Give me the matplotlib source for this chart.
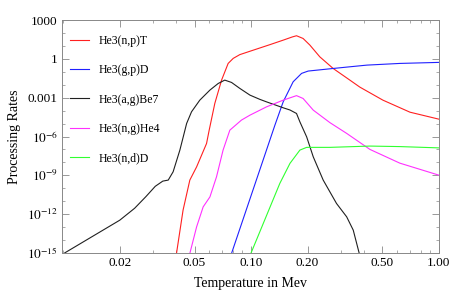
import matplotlib
matplotlib.use("Agg")
import matplotlib.pyplot as plt
import matplotlib.ticker as mticker
import numpy as np

# temperature (MeV, log10) and processing rate (log10)
be7_logT = [-1.992, -1.699, -1.620, -1.560, -1.510, -1.470, -1.441, -1.415, -1.379, -1.343,
            -1.317, -1.273, -1.219, -1.175, -1.140, -1.104, -1.060, -1.006, -0.953, -0.918,
            -0.829, -0.793, -0.758, -0.740, -0.704, -0.669, -0.616, -0.545, -0.491, -0.456,
            -0.424]
be7_logR = [-15.0, -12.47, -11.55, -10.65, -9.85, -9.45, -9.37, -8.73, -7.05, -4.99,
            -4.09, -3.19, -2.41, -1.90, -1.64, -1.82, -2.28, -2.80, -3.13, -3.32,
            -3.78, -3.95, -4.22, -4.87, -6.03, -7.57, -9.37, -11.18, -12.21, -13.24,
            -15.04]

npT_logT = [-1.397, -1.362, -1.326, -1.290, -1.237, -1.223, -1.193, -1.157, -1.122, -1.095,
            -1.060, -1.000, -0.900, -0.829, -0.780, -0.758, -0.723, -0.687, -0.634, -0.563,
            -0.474, -0.421, -0.298, -0.154, 0.0]
npT_logR = [-15.04, -11.69, -9.37, -8.35, -6.54, -5.51, -3.44, -1.64, -0.35, 0.04,
            0.33, 0.62, 1.10, 1.45, 1.70, 1.79, 1.58, 1.07, 0.16, -0.74,
            -1.64, -2.18, -3.19, -4.12, -4.66]

gpD_logT = [-1.104, -0.873, -0.829, -0.776, -0.731, -0.696, -0.563, -0.474, -0.383, -0.208,
            0.0]
gpD_logR = [-15.04, -5.12, -3.32, -1.77, -1.12, -0.94, -0.74, -0.61, -0.48, -0.35,
            -0.27]

ngHe4_logT = [-1.326, -1.290, -1.255, -1.219, -1.184, -1.149, -1.113, -1.051, -1.006, -0.918,
              -0.829, -0.758, -0.723, -0.669, -0.580, -0.491, -0.367, -0.208, 0.0]
ngHe4_logR = [-15.04, -12.99, -11.44, -10.67, -9.12, -7.05, -5.51, -4.73, -4.35, -3.71,
              -3.19, -2.84, -3.06, -3.96, -4.93, -5.76, -7.0, -8.06, -8.99]

ndD_logT = [-1.001, -0.847, -0.793, -0.740, -0.704, -0.580, -0.367, -0.208, 0.0]
ndD_logR = [-15.04, -9.63, -8.08, -7.05, -6.84, -6.84, -6.74, -6.78, -6.88]

labels = ["He3(n,p)T", "He3(g,p)D", "He3(a,g)Be7", "He3(n,g)He4", "He3(n,d)D"]
colors = ["#ff2020", "#2020ff", "#202020", "#ff30ff", "#30ff30"]

x_ticks = [0.02, 0.05, 0.10, 0.20, 0.50, 1.00]
x_ticklabels = ["0.02", "0.05", "0.10", "0.20", "0.50", "1.00"]
y_ticks = [1e3, 1, 1e-3, 1e-6, 1e-9, 1e-12, 1e-15]
y_ticklabels = ["1000", "1", "0.001", r"$10^{-6}$", r"$10^{-9}$", r"$10^{-12}$", r"$10^{-15}$"]


def main():
    plt.rcParams["font.family"] = ["Liberation Serif", "DejaVu Serif"]
    plt.rcParams["mathtext.fontset"] = "stix"

    fig = plt.figure(figsize=(4.52, 3.0), dpi=100)
    ax = fig.add_axes([0.137, 0.157, 0.834, 0.776])

    series = [
        (npT_logT, npT_logR),
        (gpD_logT, gpD_logR),
        (be7_logT, be7_logR),
        (ngHe4_logT, ngHe4_logR),
        (ndD_logT, ndD_logR),
    ]
    for (lt, lr), lab, col in zip(series, labels, colors):
        ax.plot(10.0 ** np.array(lt), 10.0 ** np.array(lr), color=col, lw=0.8,
                label=lab, solid_joinstyle="round")

    ax.set_xscale("log")
    ax.set_yscale("log")
    ax.set_xlim(0.00984, 1.0)
    ax.set_ylim(1e-15, 1e3)

    ax.set_xticks(x_ticks)
    ax.set_xticklabels(x_ticklabels)
    ax.xaxis.set_minor_locator(mticker.LogLocator(base=10, subs=np.arange(1, 10)))
    ax.xaxis.set_minor_formatter(mticker.NullFormatter())
    ax.set_yticks(y_ticks)
    ax.set_yticklabels(y_ticklabels)
    ax.yaxis.set_minor_locator(mticker.FixedLocator([10.0 ** k for k in range(-15, 4)]))
    ax.yaxis.set_minor_formatter(mticker.NullFormatter())

    ax.tick_params(which="both", direction="in", top=True, right=True,
                   color="#888888", labelsize=9.5, pad=3)
    ax.tick_params(which="major", length=5, width=0.6)
    ax.tick_params(which="minor", length=2.5, width=0.5)
    for s in ax.spines.values():
        s.set_color("#888888")
        s.set_linewidth(0.7)

    ax.set_xlabel("Temperature in Mev", fontsize=10, labelpad=6)
    ax.set_ylabel("Processing Rates", fontsize=10, labelpad=4)

    ax.legend(loc="upper left", frameon=False, fontsize=8.5, handlelength=1.6,
              labelspacing=1.45, handletextpad=0.8, borderaxespad=0.3,
              bbox_to_anchor=(0.0, 0.97))

    fig.savefig("out.png", dpi=100)
    plt.close(fig)


if __name__ == "__main__":
    main()
